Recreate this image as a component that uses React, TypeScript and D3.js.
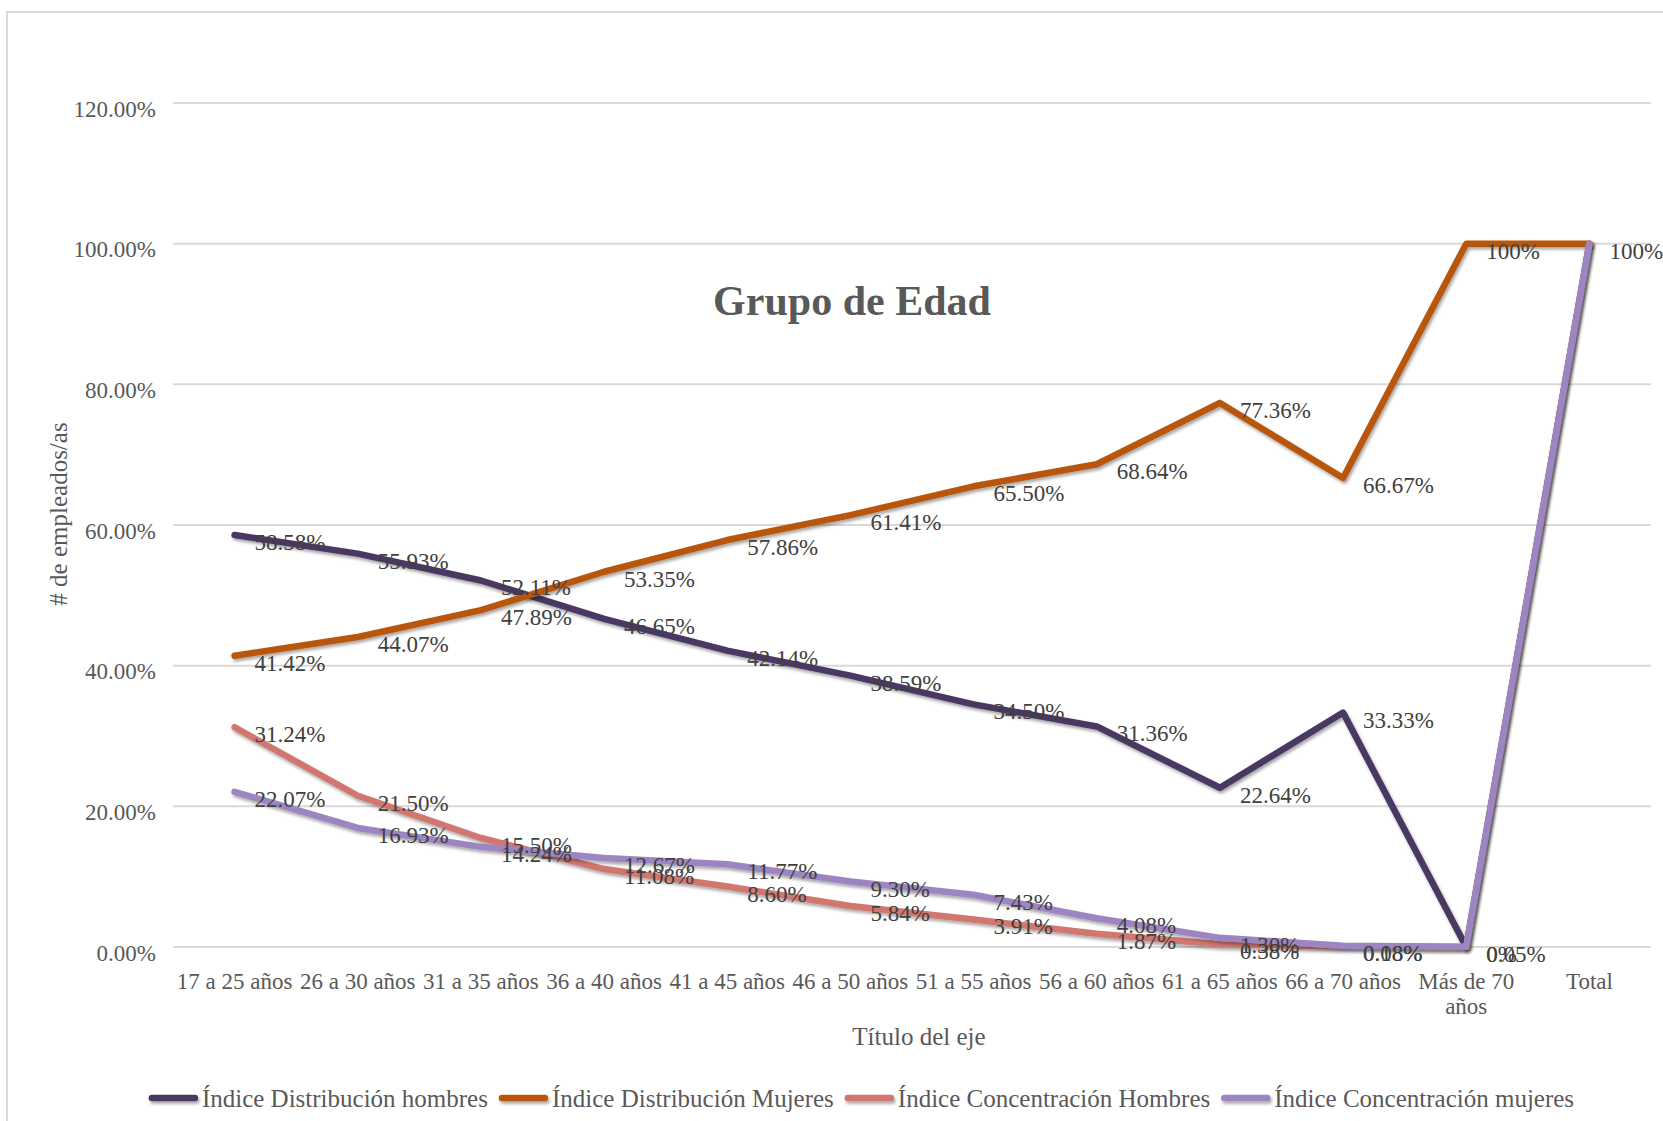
import { useEffect, useRef } from 'react';
import * as d3 from 'd3';

const CATEGORIES = [
  '17 a 25 años',
  '26 a 30 años',
  '31 a 35 años',
  '36 a 40 años',
  '41 a 45 años',
  '46 a 50 años',
  '51 a 55 años',
  '56 a 60 años',
  '61 a 65 años',
  '66 a 70 años',
  'Más de 70\naños',
  'Total',
];

const DIST_HOMBRES = [58.58, 55.93, 52.11, 46.65, 42.14, 38.59, 34.5, 31.36, 22.64, 33.33, 0, 100];
const DIST_MUJERES = [41.42, 44.07, 47.89, 53.35, 57.86, 61.41, 65.5, 68.64, 77.36, 66.67, 100, 100];
const CONC_HOMBRES = [31.24, 21.5, 15.5, 11.08, 8.6, 5.84, 3.91, 1.87, 0.38, 0.08, 0, 100];
const CONC_MUJERES = [22.07, 16.93, 14.24, 12.67, 11.77, 9.3, 7.43, 4.08, 1.3, 0.18, 0.05, 100];

const SERIES_NAMES = [
  'Índice Distribución hombres',
  'Índice Distribución Mujeres',
  'Índice Concentración Hombres',
  'Índice Concentración mujeres',
];
const SERIES_VALUES = [DIST_HOMBRES, DIST_MUJERES, CONC_HOMBRES, CONC_MUJERES];

const Y_TICKS = [0, 20, 40, 60, 80, 100, 120];

const COLORS = ['#4a3862', '#b9560a', '#d27670', '#9c85c0'];

const WIDTH = 1663;
const HEIGHT = 1121;
const PLOT = { left: 173, right: 1651, top: 103, bottom: 947 };
const FONT = '"Liberation Serif", "Times New Roman", serif';
const LINE_W = 6.5;

function fmtLabel(v: number) {
  return Number.isInteger(v) ? `${v}%` : `${v.toFixed(2)}%`;
}

export default function App() {
  const ref = useRef<SVGSVGElement | null>(null);

  useEffect(() => {
    if (!ref.current) return;
    const svg = d3.select(ref.current);
    svg.selectAll('*').remove();

    const x = d3.scalePoint<string>().domain(CATEGORIES).range([PLOT.left, PLOT.right]).padding(0.5);
    const y = d3.scaleLinear().domain([0, 120]).range([PLOT.bottom, PLOT.top]);

    const defs = svg.append('defs');
    const f = defs
      .append('filter')
      .attr('id', 'shadow')
      .attr('filterUnits', 'userSpaceOnUse')
      .attr('x', -300)
      .attr('y', -300)
      .attr('width', 2400)
      .attr('height', 1800);
    f.append('feDropShadow')
      .attr('dx', 1.5)
      .attr('dy', 2.5)
      .attr('stdDeviation', 1.6)
      .attr('flood-color', '#000')
      .attr('flood-opacity', 0.35);

    svg.append('rect').attr('width', WIDTH).attr('height', HEIGHT).attr('fill', '#fff');
    // chart frame (runs off the right/bottom edge like the source)
    svg
      .append('rect')
      .attr('x', 7)
      .attr('y', 12)
      .attr('width', 1800)
      .attr('height', 1300)
      .attr('fill', 'none')
      .attr('stroke', '#d9d9d9')
      .attr('stroke-width', 2);

    // gridlines + y ticks
    const grid = svg.append('g');
    Y_TICKS.forEach((t) => {
      grid
        .append('line')
        .attr('x1', PLOT.left)
        .attr('x2', PLOT.right)
        .attr('y1', y(t))
        .attr('y2', y(t))
        .attr('stroke', '#d9d9d9')
        .attr('stroke-width', 2);
      grid
        .append('text')
        .attr('x', 156)
        .attr('y', y(t) + 6)
        .attr('text-anchor', 'end')
        .attr('dominant-baseline', 'central')
        .attr('font-family', FONT)
        .attr('font-size', 23)
        .attr('fill', '#595959')
        .text(`${t.toFixed(2)}%`);
    });

    // category labels
    const cat = svg.append('g');
    CATEGORIES.forEach((c) => {
      const t = cat
        .append('text')
        .attr('x', x(c)!)
        .attr('y', 989)
        .attr('text-anchor', 'middle')
        .attr('font-family', FONT)
        .attr('font-size', 23)
        .attr('fill', '#595959');
      c.split('\n').forEach((l, i) => {
        t.append('tspan')
          .attr('x', x(c)!)
          .attr('dy', i === 0 ? 0 : 25)
          .text(l);
      });
    });

    // lines
    const line = d3
      .line<number>()
      .x((_, i) => x(CATEGORIES[i])!)
      .y((d) => y(d));
    const lines = svg.append('g');
    SERIES_VALUES.forEach((vals, si) => {
      lines
        .append('path')
        .datum(vals)
        .attr('fill', 'none')
        .attr('stroke', COLORS[si])
        .attr('stroke-width', LINE_W)
        .attr('stroke-linejoin', 'round')
        .attr('stroke-linecap', 'round')
        .attr('filter', 'url(#shadow)')
        .attr('d', line);
    });

    // data labels (identical label at identical spot drawn once)
    const labels = svg.append('g');
    const seen = new Set<string>();
    SERIES_VALUES.forEach((vals) => {
      vals.forEach((v, i) => {
        const key = `${i}|${fmtLabel(v)}`;
        if (seen.has(key)) return;
        seen.add(key);
        labels
          .append('text')
          .attr('x', x(CATEGORIES[i])! + 20)
          .attr('y', y(v) + 7.5)
          .attr('dominant-baseline', 'central')
          .attr('font-family', FONT)
          .attr('font-size', 23)
          .attr('fill', '#404040')
          .text(fmtLabel(v));
      });
    });

    // title
    svg
      .append('text')
      .attr('x', 852)
      .attr('y', 315)
      .attr('text-anchor', 'middle')
      .attr('font-family', FONT)
      .attr('font-weight', 'bold')
      .attr('font-size', 42)
      .attr('fill', '#595959')
      .text('Grupo de Edad');

    // axis titles
    svg
      .append('text')
      .attr('transform', 'translate(58,514) rotate(-90)')
      .attr('text-anchor', 'middle')
      .attr('dominant-baseline', 'central')
      .attr('font-family', FONT)
      .attr('font-size', 25)
      .attr('fill', '#595959')
      .text('# de empleados/as');
    svg
      .append('text')
      .attr('x', 919)
      .attr('y', 1045)
      .attr('text-anchor', 'middle')
      .attr('font-family', FONT)
      .attr('font-size', 25)
      .attr('fill', '#595959')
      .text('Título del eje');

    // legend
    const legend = svg.append('g');
    const ly = 1098;
    let cx = 0;
    SERIES_NAMES.forEach((name, i) => {
      legend
        .append('line')
        .attr('x1', cx + 4)
        .attr('x2', cx + 47)
        .attr('y1', ly)
        .attr('y2', ly)
        .attr('stroke', COLORS[i])
        .attr('stroke-width', LINE_W)
        .attr('stroke-linecap', 'round')
        .attr('filter', 'url(#shadow)');
      const t = legend
        .append('text')
        .attr('x', cx + 54)
        .attr('y', ly)
        .attr('dominant-baseline', 'central')
        .attr('font-family', FONT)
        .attr('font-size', 25)
        .attr('fill', '#595959')
        .text(name);
      const w = (t.node() as SVGTextElement).getComputedTextLength();
      cx += 54 + w + 10;
    });
    const total = cx - 10;
    legend.attr('transform', `translate(${861 - total / 2},0)`);
  }, []);

  return (
    <svg
      ref={ref}
      width={WIDTH}
      height={HEIGHT}
      style={{ position: 'absolute', left: 0, top: 0, display: 'block' }}
    />
  );
}
